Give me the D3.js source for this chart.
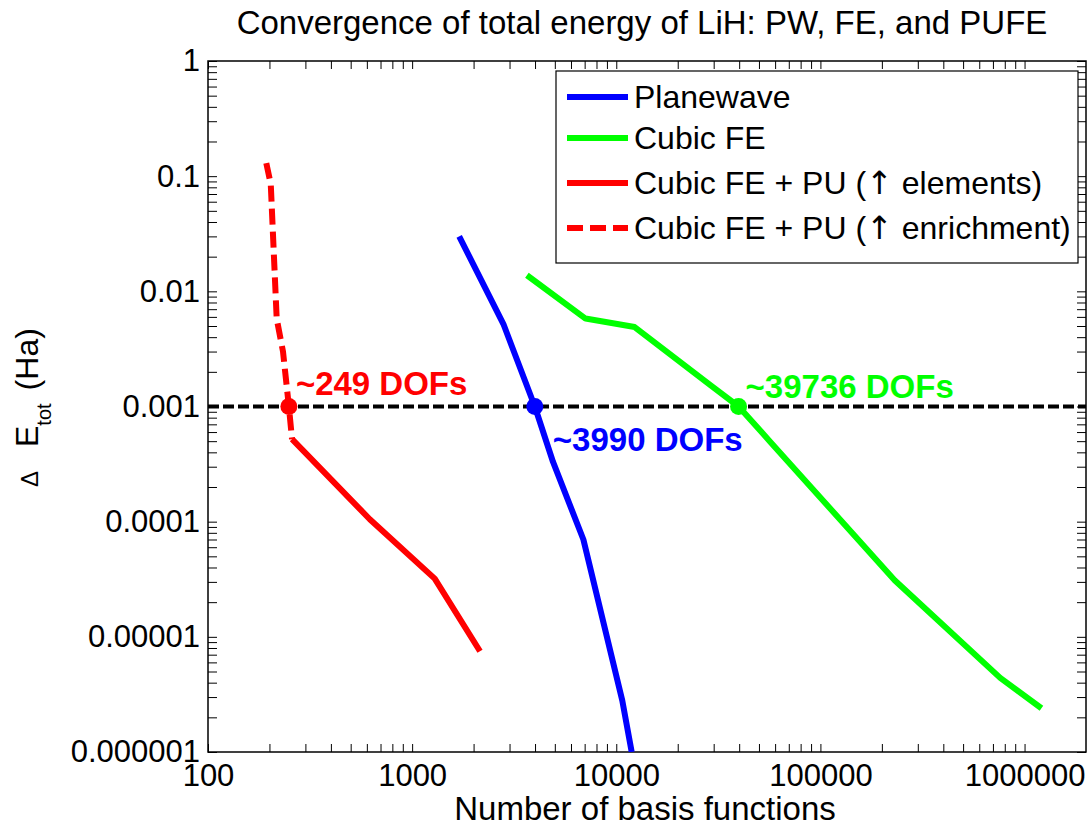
<!DOCTYPE html>
<html>
<head>
<meta charset="utf-8">
<script src="https://cdn.jsdelivr.net/npm/d3@7"></script>
<style>
  body { margin: 0; background: #fff; }
  svg { display: block; }
  text { font-family: "Liberation Sans", Arial, sans-serif; }
</style>
</head>
<body>
<svg id="chart" width="1089" height="827"></svg>
<script>
// Convergence data: number of basis functions vs. total-energy error (Ha)
const planewaveDofs = [1700, 2800, 3990, 4900, 6900, 10700, 11900];
const planewaveErr  = [0.030, 0.0052, 0.001, 0.00033, 0.00007, 0.0000028, 0.000001];

const cubicFeDofs = [3650, 7070, 12300, 28900, 39736, 57000, 231000, 760000, 1210000];
const cubicFeErr  = [0.0138, 0.0058, 0.0049, 0.00153, 0.001, 0.00049, 0.000031, 0.0000044, 0.0000024];

const puElementsDofs = [258, 620, 1290, 2150];
const puElementsErr  = [0.00052, 0.000105, 0.000032, 0.0000075];

const puEnrichDofs = [193, 203, 217, 233, 249, 258];
const puEnrichErr  = [0.13, 0.085, 0.0058, 0.0030, 0.001, 0.00052];

const targetError = 0.001;
const crossingDofs = [249, 3990, 39736];
const crossingLabels = ["~249 DOFs", "~3990 DOFs", "~39736 DOFs"];

const seriesNames = ["Planewave", "Cubic FE", "Cubic FE + PU (\u2191 elements)", "Cubic FE + PU (\u2191 enrichment)"];

const xTickValues = [100, 1000, 10000, 100000, 1000000];
const xTickLabels = ["100", "1000", "10000", "100000", "1000000"];
const yTickValues = [1, 0.1, 0.01, 0.001, 0.0001, 0.00001, 0.000001];
const yTickLabels = ["1", "0.1", "0.01", "0.001", "0.0001", "0.00001", "0.000001"];

const titleText = "Convergence of total energy of LiH: PW, FE, and PUFE";
const xTitle = "Number of basis functions";

// ---- layout ----
const svg = d3.select("#chart");
const L = 208, R = 1086, T = 61, B = 752;

const x = d3.scaleLog().domain([100, 2000000]).range([L, R]);
const y = d3.scaleLog().domain([0.000001, 1]).range([B, T]);

const BLUE = "#0000ff", GREEN = "#00ff00", RED = "#ff0000";

// minor tick positions (2..9 within each decade)
const xMinor = [];
for (let d = 100; d < 2000000; d *= 10) for (let k = 2; k <= 9; k++) if (d * k < 2000000) xMinor.push(d * k);
const yMinor = [];
for (let d = 0.000001; d < 0.99; d *= 10) for (let k = 2; k <= 9; k++) yMinor.push(d * k);

function styleAxis(g) {
  g.select(".domain").remove();
  g.selectAll(".tick line").attr("stroke", "#000").attr("stroke-width", 1);
  g.selectAll(".tick text")
    .attr("fill", "#000")
    .attr("font-size", 31)
    .attr("font-family", '"Liberation Sans", Arial, sans-serif');
}

// bottom axis with labels
svg.append("g").attr("transform", `translate(0,${B})`)
  .call(d3.axisBottom(x).tickValues(xTickValues)
    .tickFormat((d, i) => xTickLabels[i]).tickSizeInner(-8).tickSizeOuter(0).tickPadding(12))
  .call(styleAxis);
svg.append("g").attr("transform", `translate(0,${B})`)
  .call(d3.axisBottom(x).tickValues(xMinor).tickFormat(() => "").tickSizeInner(-8).tickSizeOuter(0))
  .call(styleAxis);
// top mirror ticks
svg.append("g").attr("transform", `translate(0,${T})`)
  .call(d3.axisTop(x).tickValues(xTickValues.concat(xMinor)).tickFormat(() => "").tickSizeInner(-8).tickSizeOuter(0))
  .call(styleAxis);

// left axis with labels
svg.append("g").attr("transform", `translate(${L},0)`)
  .call(d3.axisLeft(y).tickValues(yTickValues)
    .tickFormat((d, i) => yTickLabels[i]).tickSizeInner(-9).tickSizeOuter(0).tickPadding(8))
  .call(styleAxis);
svg.append("g").attr("transform", `translate(${L},0)`)
  .call(d3.axisLeft(y).tickValues(yMinor).tickFormat(() => "").tickSizeInner(-9).tickSizeOuter(0))
  .call(styleAxis);
// right mirror ticks
svg.append("g").attr("transform", `translate(${R},0)`)
  .call(d3.axisRight(y).tickValues(yTickValues.concat(yMinor)).tickFormat(() => "").tickSizeInner(-9).tickSizeOuter(0))
  .call(styleAxis);

// axes box
svg.append("rect")
  .attr("x", L).attr("y", T).attr("width", R - L).attr("height", B - T)
  .attr("fill", "none").attr("stroke", "#000").attr("stroke-width", 1.5);

// ---- series ----
svg.append("defs").append("clipPath").attr("id", "plotClip")
  .append("rect").attr("x", L).attr("y", T).attr("width", R - L).attr("height", B - T);

const plot = svg.append("g").attr("clip-path", "url(#plotClip)");
const line = d3.line().x(d => x(d[0])).y(d => y(d[1]));
const zip = (a, b) => a.map((v, i) => [v, b[i]]);

const series = [
  { data: zip(planewaveDofs, planewaveErr), color: BLUE, dash: null },
  { data: zip(cubicFeDofs, cubicFeErr), color: GREEN, dash: null },
  { data: zip(puElementsDofs, puElementsErr), color: RED, dash: null },
  { data: zip(puEnrichDofs, puEnrichErr), color: RED, dash: "16,7" }
];

series.forEach(s => {
  plot.append("path")
    .datum(s.data)
    .attr("d", line)
    .attr("fill", "none")
    .attr("stroke", s.color)
    .attr("stroke-width", 6)
    .attr("stroke-linejoin", "round")
    .attr("stroke-dasharray", s.dash);
});

// target accuracy line
plot.append("line")
  .attr("x1", L).attr("x2", R)
  .attr("y1", y(targetError)).attr("y2", y(targetError))
  .attr("stroke", "#000").attr("stroke-width", 4)
  .attr("stroke-dasharray", "11,4");

// crossing markers and labels
const crossColors = [RED, BLUE, GREEN];
const labelOffsets = [[7, -12], [18, 44], [7, -9]];
crossingDofs.forEach((d, i) => {
  svg.append("circle")
    .attr("cx", x(d)).attr("cy", y(targetError)).attr("r", 8.5)
    .attr("fill", crossColors[i]);
  svg.append("text")
    .attr("x", x(d) + labelOffsets[i][0])
    .attr("y", y(targetError) + labelOffsets[i][1])
    .attr("fill", crossColors[i])
    .attr("font-size", 33)
    .attr("font-weight", "bold")
    .text(crossingLabels[i]);
});

// ---- legend ----
const legend = svg.append("g");
legend.append("rect")
  .attr("x", 556).attr("y", 71).attr("width", 522).attr("height", 192)
  .attr("fill", "#fff").attr("stroke", "#000").attr("stroke-width", 1.2);
const legendColors = [BLUE, GREEN, RED, RED];
const legendDash = [null, null, null, "16,7"];
const legendRows = [97, 138, 183, 228];
seriesNames.forEach((name, i) => {
  const cy = legendRows[i];
  legend.append("line")
    .attr("x1", 567).attr("x2", 628).attr("y1", cy).attr("y2", cy)
    .attr("stroke", legendColors[i]).attr("stroke-width", 6)
    .attr("stroke-dasharray", legendDash[i]);
  const t = legend.append("text")
    .attr("x", 634).attr("y", cy).attr("dy", "0.35em")
    .attr("font-size", 32).attr("fill", "#000");
  // the arrow glyph is set in a wider face
  name.split(/(\u2191)/).forEach(part => {
    if (!part) return;
    const sp = t.append("tspan").text(part);
    if (part === "\u2191") sp.attr("font-family", '"DejaVu Sans", sans-serif');
  });
});

// ---- titles ----
svg.append("text")
  .attr("x", 642).attr("y", 34)
  .attr("text-anchor", "middle").attr("font-size", 33).attr("fill", "#000")
  .text(titleText);

svg.append("text")
  .attr("x", 645).attr("y", 820)
  .attr("text-anchor", "middle").attr("font-size", 33).attr("fill", "#000")
  .text(xTitle);

const yt = svg.append("text")
  .attr("transform", "translate(38,487) rotate(-90)")
  .attr("x", 0).attr("y", 0)
  .attr("fill", "#000");
yt.append("tspan").attr("font-size", 24).text("\u0394");
yt.append("tspan").attr("font-size", 32).attr("dx", 24).text("E");
yt.append("tspan").attr("font-size", 20).attr("dy", 13).text("tot");
yt.append("tspan").attr("font-size", 32).attr("dy", -13).attr("dx", 13).text("(Ha)");
</script>
</body>
</html>
